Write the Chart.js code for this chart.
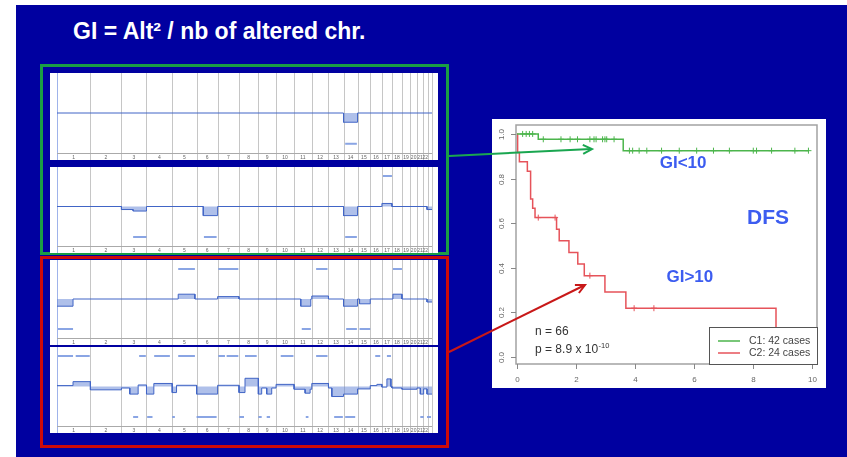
<!DOCTYPE html>
<html>
<head>
<meta charset="utf-8">
<script src="https://cdn.jsdelivr.net/npm/chart.js@4.4.1/dist/chart.umd.min.js"></script>
<style>
  body { margin:0; width:847px; height:457px; position:relative; overflow:hidden; background:#fff; font-family:"Liberation Sans", Arial, sans-serif; }
  .abs { position:absolute; }
  #slide { left:16px; top:5px; width:831px; height:452px; background:#0000a0; }
  #title { left:73px; top:18px; color:#fff; font-weight:bold; font-size:23px; white-space:nowrap; }
  #greenBox { left:40px; top:64px; width:409px; height:191px; border:3px solid #1a9d45; box-sizing:border-box; }
  #redBox { left:40px; top:256px; width:409px; height:192px; border:3px solid #cc0a0a; box-sizing:border-box; }
  .panel { left:50px; width:388px; background:#fff; }
  #kmBox { left:492px; top:119px; width:334px; height:269px; background:#fff; }
</style>
</head>
<body>
<div id="slide" class="abs"></div>
<div id="title" class="abs">GI = Alt² / nb of altered chr.</div>
<div id="greenBox" class="abs"></div>
<div id="redBox" class="abs"></div>
<div class="abs panel" style="top:73px;height:87px"><canvas id="prof1" width="388" height="87"></canvas></div>
<div class="abs panel" style="top:167px;height:86px"><canvas id="prof2" width="388" height="86"></canvas></div>
<div class="abs panel" style="top:260px;height:85px"><canvas id="prof3" width="388" height="85"></canvas></div>
<div class="abs panel" style="top:347px;height:86px"><canvas id="prof4" width="388" height="86"></canvas></div>
<div id="kmBox" class="abs"><canvas id="km" width="334" height="269"></canvas></div>
<svg class="abs" style="left:0;top:0" width="847" height="457">
  <line x1="449" y1="156" x2="591" y2="149" stroke="#1aa650" stroke-width="2"/>
  <polyline points="582.8,144.9 592,149 583.2,153.9" fill="none" stroke="#1aa650" stroke-width="2"/>
  <line x1="449" y1="352" x2="584" y2="285.5" stroke="#c81818" stroke-width="2"/>
  <polyline points="574.9,285 585,285 578.9,293" fill="none" stroke="#c81818" stroke-width="2"/>
</svg>
<script>
// ---- genomic profiles ----
const chrLabels = ["1","2","3","4","5","6","7","8","9","10","11","12","13","14","15","16","17","18","19","20","21","22",""];
const chrSizes = [100, 93, 75, 77, 73, 63, 64, 58, 53, 54, 53, 50, 45, 42, 38, 35, 30, 30, 25, 20, 18, 14, 13];

// segmented log-ratio: [start, end, level]
const segs1 = [[0, 858, 0], [858, 900, -0.3], [900, 1123, 0]];
const segs2 = [[0, 193, 0], [193, 228, -0.1], [228, 268, -0.15], [268, 438, 0], [438, 481, -0.3],
  [481, 858, 0], [858, 900, -0.3], [900, 973, 0], [973, 1003, 0.1], [1003, 1108, 0], [1108, 1123, -0.1]];
const segs3 = [[0, 48, -0.24], [48, 363, 0], [363, 413, 0.16], [413, 481, 0], [481, 545, 0.08],
  [545, 730, 0], [730, 760, -0.24], [760, 763, 0], [763, 813, 0.1], [813, 858, 0], [858, 900, -0.24],
  [900, 906, 0], [906, 938, -0.16], [938, 1006, 0], [1006, 1033, 0.16], [1033, 1108, 0], [1108, 1123, -0.1]];
const segs4 = [[0, 48, 0.03], [48, 100, 0.16], [100, 193, -0.11], [193, 218, -0.05], [218, 243, -0.25],
  [243, 268, 0.05], [268, 290, -0.25], [290, 345, 0.1], [345, 358, -0.2], [358, 418, 0.04],
  [418, 481, -0.25], [481, 545, 0.04], [545, 563, -0.2], [563, 603, 0.27], [603, 613, -0.25],
  [613, 628, -0.05], [628, 643, -0.25], [643, 656, -0.05], [656, 710, 0.07], [710, 743, -0.09],
  [743, 758, -0.22], [758, 763, -0.09], [763, 813, 0.1], [813, 823, -0.05], [823, 858, -0.33],
  [858, 900, -0.25], [900, 938, -0.08], [938, 958, 0.03], [958, 973, 0.07], [973, 988, -0.02],
  [988, 1000, 0.25], [1000, 1003, 0], [1003, 1033, -0.05], [1033, 1078, -0.09], [1078, 1088, -0.05],
  [1088, 1098, -0.25], [1098, 1108, -0.08], [1108, 1123, -0.25]];

// gain (+1) / loss (-1) calls: [start, end, status]
const calls1 = [[863, 898, -1]];
const calls2 = [[228, 268, -1], [440, 478, -1], [863, 898, -1], [976, 1003, 1]];
const calls3 = [[3, 48, -1], [363, 413, 1], [483, 543, 1], [733, 760, -1], [776, 810, 1],
  [866, 898, -1], [906, 938, -1], [1006, 1033, 1]];
const calls4 = [[3, 48, 1], [56, 98, 1], [246, 266, 1], [291, 338, 1], [363, 413, 1], [483, 503, 1],
  [508, 543, 1], [563, 598, 1], [670, 708, 1], [776, 810, 1], [953, 968, 1], [988, 1000, 1],
  [228, 243, -1], [270, 286, -1], [345, 353, -1], [418, 478, -1], [546, 560, -1], [603, 613, -1],
  [628, 638, -1], [745, 753, -1], [830, 856, -1], [863, 893, -1], [1088, 1098, -1], [1108, 1120, -1]];

// ---- Kaplan-Meier DFS ----
const c1Times = [0, 0.72, 3.60];
const c1Surv = [1, 0.976, 0.925];
const c1Censor = [0.19, 0.31, 0.42, 0.53, 0.89, 1.49, 1.80, 2.05, 2.47, 2.61, 2.68, 2.90, 2.98, 3.04, 3.29,
  3.81, 3.92, 4.14, 4.40, 4.90, 5.50, 6.09, 6.66, 7.20, 8.01, 8.12, 8.63, 9.42, 9.88];
const c2Times = [0, 0.02, 0.08, 0.35, 0.46, 0.53, 0.61, 1.34, 1.43, 1.76, 2.06, 2.28, 2.98, 3.69, 8.78];
const c2Surv = [1, 0.917, 0.875, 0.833, 0.708, 0.667, 0.625, 0.573, 0.521, 0.469, 0.417, 0.365, 0.292, 0.219, 0];
const c2Censor = [0.72, 1.29, 2.47, 3.97, 4.64];
const kmXTicks = [0, 2, 4, 6, 8, 10];
const kmYTicks = [0, 0.2, 0.4, 0.6, 0.8, 1.0];
const kmYLabels = ["0.0", "0.2", "0.4", "0.6", "0.8", "1.0"];
const legendLabels = ["C1: 42 cases", "C2: 24 cases"];

const FONT = '"Liberation Sans", Arial, sans-serif';
const chrStarts = [];
chrSizes.reduce((acc, s) => { chrStarts.push(acc); return acc + s; }, 0);
const genomeEnd = chrSizes.reduce((a, b) => a + b, 0);

// chromosome separators and axis for the profile panels
const genomeAxis = {
  id: 'genomeAxis',
  beforeDatasetsDraw(chart) {
    const { ctx, chartArea: a, scales: { x } } = chart;
    ctx.save();
    ctx.lineWidth = 1;
    ctx.strokeStyle = '#c6c6c6';
    chrStarts.concat([genomeEnd]).forEach((s, i) => {
      if (i === 0) return;
      const px = Math.round(x.getPixelForValue(s)) + 0.5;
      ctx.beginPath(); ctx.moveTo(px, a.top); ctx.lineTo(px, a.bottom + 7); ctx.stroke();
    });
    ctx.strokeStyle = '#9fb3ea';
    const lx = Math.round(a.left) + 0.5;
    ctx.beginPath(); ctx.moveTo(lx, a.top); ctx.lineTo(lx, a.bottom + 7); ctx.stroke();
    ctx.strokeStyle = '#aaaaaa';
    const ay = Math.round(a.bottom) + 0.5;
    ctx.beginPath(); ctx.moveTo(a.left, ay); ctx.lineTo(a.right, ay); ctx.stroke();
    ctx.fillStyle = '#666';
    ctx.font = '5px ' + FONT;
    ctx.textAlign = 'center';
    ctx.textBaseline = 'top';
    chrLabels.forEach((l, i) => {
      ctx.fillText(l, x.getPixelForValue(chrStarts[i] + chrSizes[i] / 2), a.bottom + 2);
    });
    ctx.restore();
  }
};

function drawProfile(id, segs, calls) {
  const linePts = [];
  segs.forEach(s => { linePts.push({ x: s[0], y: s[2] }, { x: s[1], y: s[2] }); });
  const callPts = [];
  calls.forEach(c => { callPts.push({ x: c[0], y: c[2] }, { x: c[1], y: c[2] }, { x: c[1], y: null }); });
  new Chart(document.getElementById(id), {
    type: 'line',
    data: {
      datasets: [
        { data: linePts, borderColor: '#4165c6', borderWidth: 1, backgroundColor: 'rgba(96,130,214,0.5)',
          fill: 'origin', pointRadius: 0, tension: 0 },
        { data: callPts, borderColor: 'rgba(125,155,225,0.9)', borderWidth: 2, pointRadius: 0, fill: false }
      ]
    },
    options: {
      responsive: false, animation: false, devicePixelRatio: 1,
      layout: { padding: { left: 7, right: 6, top: 0, bottom: 7 } },
      scales: {
        x: { type: 'linear', min: 0, max: genomeEnd, display: false },
        y: { min: -1.3, max: 1.3, display: false }
      },
      plugins: { legend: { display: false }, tooltip: { enabled: false } }
    },
    plugins: [genomeAxis]
  });
}

drawProfile('prof1', segs1, calls1);
drawProfile('prof2', segs2, calls2);
drawProfile('prof3', segs3, calls3);
drawProfile('prof4', segs4, calls4);

// survival level at time t (step function lookup)
function survAt(times, surv, t) {
  let v = surv[0];
  times.forEach((tt, i) => { if (tt <= t) v = surv[i]; });
  return v;
}
function kmPoints(times, surv, endT) {
  const pts = times.map((t, i) => ({ x: t, y: surv[i] }));
  if (endT > times[times.length - 1]) pts.push({ x: endT, y: surv[surv.length - 1] });
  return pts;
}

const GREEN = '#4cb54c', RED = '#e6535a';

const kmDecor = {
  id: 'kmDecor',
  afterDatasetsDraw(chart) {
    const { ctx, chartArea: a, scales: { x, y } } = chart;
    ctx.save();
    // frame
    ctx.strokeStyle = '#a2a2a2'; ctx.lineWidth = 1.5;
    ctx.strokeRect(a.left, a.top, a.right - a.left, a.bottom - a.top);
    // axes ticks and labels
    ctx.lineWidth = 1; ctx.strokeStyle = '#888';
    ctx.fillStyle = '#666'; ctx.font = '8px ' + FONT;
    ctx.textAlign = 'center'; ctx.textBaseline = 'middle';
    kmXTicks.forEach(v => {
      const px = Math.round(x.getPixelForValue(v)) + 0.5;
      ctx.beginPath(); ctx.moveTo(px, a.bottom); ctx.lineTo(px, a.bottom + 5); ctx.stroke();
      ctx.fillText(String(v), px, a.bottom + 16);
    });
    kmYTicks.forEach((v, i) => {
      const py = Math.round(y.getPixelForValue(v)) + 0.5;
      ctx.beginPath(); ctx.moveTo(a.left - 5, py); ctx.lineTo(a.left, py); ctx.stroke();
      ctx.save();
      ctx.translate(a.left - 14, py); ctx.rotate(-Math.PI / 2);
      ctx.fillText(kmYLabels[i], 0, 0);
      ctx.restore();
    });
    // legend (bottom right, white box over the curves)
    const lw = 108, lh = 37;
    const lx = a.right - lw, ly = a.bottom - lh;
    ctx.fillStyle = '#fff'; ctx.fillRect(lx, ly, lw, lh);
    ctx.strokeStyle = '#555'; ctx.strokeRect(lx + 0.5, ly + 0.5, lw, lh);
    [GREEN, RED].forEach((col, i) => {
      const yy = ly + 14 + i * 12;
      ctx.strokeStyle = col; ctx.lineWidth = 1.5;
      ctx.beginPath(); ctx.moveTo(lx + 9, yy); ctx.lineTo(lx + 31, yy); ctx.stroke();
      ctx.fillStyle = '#444'; ctx.font = '10.5px ' + FONT;
      ctx.textAlign = 'left';
      ctx.fillText(legendLabels[i], lx + 40, yy);
    });
    // annotations
    ctx.fillStyle = '#333'; ctx.font = '12px ' + FONT; ctx.textAlign = 'left';
    const tx = x.getPixelForValue(0.61);
    ctx.fillText('n = 66', tx, y.getPixelForValue(0.112));
    const py2 = y.getPixelForValue(0.031);
    const base = 'p = 8.9 x 10';
    ctx.fillText(base, tx, py2);
    const w = ctx.measureText(base).width;
    ctx.font = '7.5px ' + FONT;
    ctx.fillText('-10', tx + w + 0.5, py2 - 4);
    ctx.fillStyle = '#3c5cf0'; ctx.font = 'bold 17px ' + FONT; ctx.textAlign = 'center';
    ctx.fillText('GI<10', x.getPixelForValue(5.63), y.getPixelForValue(0.87));
    ctx.fillText('GI>10', x.getPixelForValue(5.86), y.getPixelForValue(0.359));
    ctx.font = 'bold 21px ' + FONT;
    ctx.fillText('DFS', x.getPixelForValue(8.51), y.getPixelForValue(0.623));
    ctx.restore();
  }
};

new Chart(document.getElementById('km'), {
  type: 'line',
  data: {
    datasets: [
      { data: kmPoints(c1Times, c1Surv, Math.max(...c1Censor)), borderColor: GREEN, borderWidth: 1.5,
        stepped: 'before', pointRadius: 0, fill: false },
      { data: kmPoints(c2Times, c2Surv, 0), borderColor: RED, borderWidth: 1.5,
        stepped: 'before', pointRadius: 0, fill: false },
      { type: 'scatter', data: c1Censor.map(t => ({ x: t, y: survAt(c1Times, c1Surv, t) })),
        pointStyle: 'cross', pointRadius: 3, borderColor: GREEN, borderWidth: 1, showLine: false },
      { type: 'scatter', data: c2Censor.map(t => ({ x: t, y: survAt(c2Times, c2Surv, t) })),
        pointStyle: 'cross', pointRadius: 3, borderColor: RED, borderWidth: 1, showLine: false }
    ]
  },
  options: {
    responsive: false, animation: false, devicePixelRatio: 1,
    layout: { padding: { left: 24, top: 6, right: 9, bottom: 24 } },
    scales: {
      x: { type: 'linear', min: -0.035, max: 10.17, display: false },
      y: { min: -0.031, max: 1.04, display: false }
    },
    plugins: { legend: { display: false }, tooltip: { enabled: false } }
  },
  plugins: [kmDecor]
});
</script>
</body>
</html>
